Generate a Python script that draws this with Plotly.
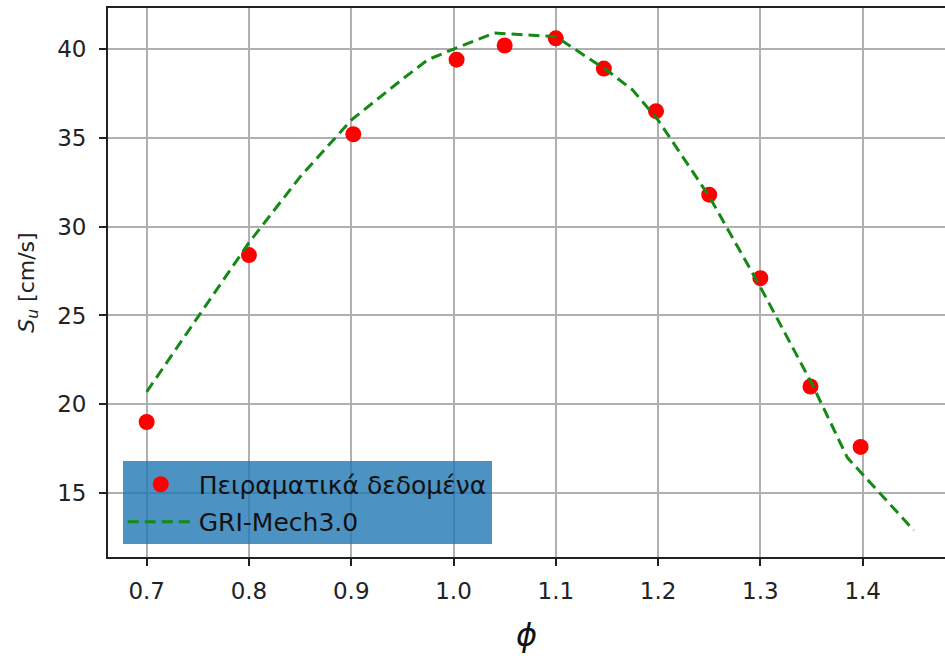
import plotly.graph_objects as go

# Experimental data
phi_exp = [0.70, 0.80, 0.902, 1.003, 1.05, 1.10, 1.147, 1.198, 1.25, 1.30, 1.349, 1.398]
su_exp = [19.0, 28.4, 35.2, 39.4, 40.2, 40.6, 38.9, 36.5, 31.8, 27.1, 21.0, 17.6]

# GRI-Mech 3.0 simulation
phi_sim = [0.70, 0.75, 0.80, 0.85, 0.90, 0.95, 0.975, 1.00, 1.04, 1.10, 1.15, 1.175, 1.20, 1.25, 1.30, 1.35, 1.385, 1.45]
su_sim = [20.7, 24.9, 29.1, 32.8, 36.0, 38.3, 39.4, 40.0, 40.9, 40.7, 38.8, 37.7, 36.0, 31.7, 26.6, 21.2, 17.0, 12.9]

x_ticks = [0.7, 0.8, 0.9, 1.0, 1.1, 1.2, 1.3, 1.4]
x_tick_text = ["0.7", "0.8", "0.9", "1.0", "1.1", "1.2", "1.3", "1.4"]
y_ticks = [15, 20, 25, 30, 35, 40]

FONT = "DejaVu Sans"

fig = go.Figure()
fig.add_trace(go.Scatter(
    x=phi_exp, y=su_exp, mode="markers",
    name="Πειραματικά δεδομένα",
    legendgroup="a",
    marker=dict(color="#ff0000", size=16, line=dict(width=0)),
))
fig.add_trace(go.Scatter(
    x=phi_sim, y=su_sim, mode="lines",
    name="GRI-Mech3.0",
    legendgroup="b",
    line=dict(color="#138a13", width=3, dash="11px,6px"),
))

axis_common = dict(
    showgrid=True, gridcolor="#b0b0b0", gridwidth=1.5,
    showline=True, linecolor="#222222", linewidth=1.8,
    ticks="outside", ticklen=7, tickwidth=1.5, tickcolor="#222222",
    tickfont=dict(family=FONT, size=23, color="#222222"),
    zeroline=False,
)

fig.update_layout(
    width=945, height=658,
    margin=dict(l=108, r=0, t=8, b=101),
    paper_bgcolor="white", plot_bgcolor="white",
    font=dict(family=FONT, color="#222222"),
    xaxis=dict(
        range=[0.6622, 1.4805],
        tickvals=x_ticks, ticktext=x_tick_text,
        mirror=True,
        ticklabelstandoff=5,
        title=dict(text="<i>ϕ</i>", font=dict(family=FONT, size=32, color="#111111"), standoff=21),
        **axis_common,
    ),
    yaxis=dict(
        range=[11.40, 42.31],
        tickvals=y_ticks,
        ticklabelstandoff=8,
        title=dict(text="<i>S</i><sub><i>u</i></sub> [cm/s]", font=dict(family=FONT, size=22, color="#222222"), standoff=17),
        **axis_common,
    ),
    legend=dict(
        x=0.0176, y=0.174, xanchor="left", yanchor="top",
        bgcolor="rgba(31,119,180,0.8)",
        borderwidth=0,
        font=dict(family=FONT, size=25, color="#111111"),
        itemwidth=66,
        tracegroupgap=2,
    ),
    showlegend=True,
)

fig.write_html("out.html")
